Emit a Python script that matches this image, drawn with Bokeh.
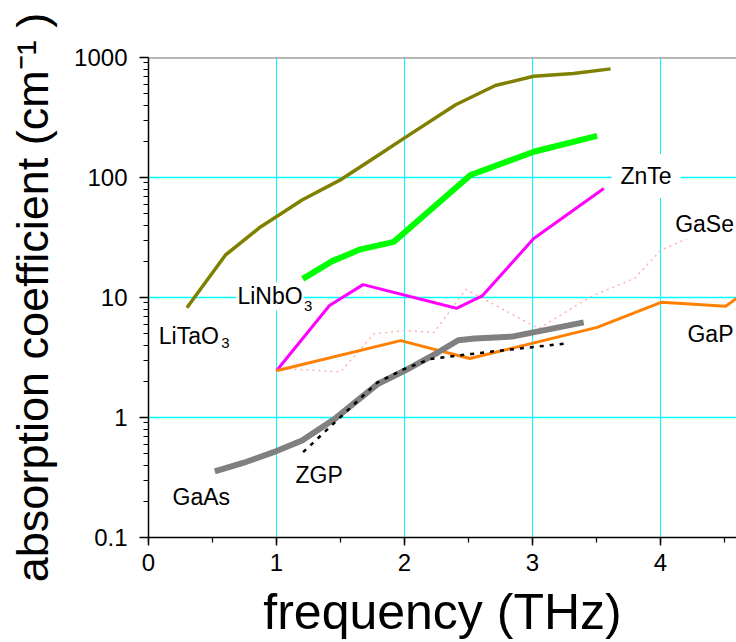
from bokeh.plotting import figure
from bokeh.models import Range1d, Label, Span, SingleIntervalTicker, CustomJSTickFormatter
from bokeh.embed import file_html
from bokeh.resources import INLINE

FONT = "Liberation Sans"

# ---- data (frequency in THz, absorption coefficient in cm^-1) ----
litao3_f = [0.30, 0.60, 0.875, 1.20, 1.51, 1.81, 2.01, 2.40, 2.71, 3.01, 3.32, 3.61]
litao3_a = [8.2, 22.5, 38.7, 65, 97, 157, 217, 404, 584, 698, 735, 804]

linbo3_f = [1.205, 1.435, 1.656, 1.917, 2.516, 3.01, 3.505]
linbo3_a = [14.3, 20.1, 25.2, 29.1, 105, 164, 222]

znte_f = [1.0, 1.414, 1.677, 2.406, 2.607, 3.01, 3.557]
znte_a = [2.45, 8.57, 12.8, 8.13, 10.3, 31, 81]

gap_f = [1.0, 1.97, 2.51, 3.505, 4.01, 4.51, 4.75]
gap_a = [2.45, 4.37, 3.1, 5.64, 9.15, 8.46, 13]

gase_f = [1.0, 1.5, 1.76, 2.0, 2.23, 2.48, 3.05, 3.45, 3.8, 4.0, 4.21]
gase_a = [2.58, 2.4, 4.97, 5.3, 5.1, 11.7, 5.5, 10.1, 14.5, 24.7, 31]

gaas_f = [0.518, 0.745, 1.0, 1.2, 1.45, 1.79, 2.0, 2.26, 2.42, 2.55, 2.84, 3.40]
gaas_a = [0.356, 0.42, 0.525, 0.644, 0.966, 1.9, 2.45, 3.48, 4.4, 4.55, 4.72, 6.2]

zgp_f = [1.208, 1.786, 1.995, 2.20, 2.52, 2.67, 3.27]
zgp_a = [0.514, 1.95, 2.53, 3.07, 3.38, 3.53, 4.15]

# text labels: anchor = left end of the text baseline
label_text = ["LiTaO", "LiNbO", "ZnTe", "GaSe", "GaP", "GaAs", "ZGP"]
label_f = [0.08, 0.695, 3.6875, 4.115, 4.211, 0.1875, 1.148]
label_a = [4.72, 10.06, 86.5, 39.3, 4.81, 0.212, 0.324]
label_pad = [1, 1, 9, 2, 2, 1, 1]

sub_text = ["3", "3"]
sub_f = [0.568, 1.215]
sub_a = [4.12, 8.41]

PX_PER_THZ = 128.0
PX_PER_DECADE = 120.0

p = figure(width=736, height=642,
           x_range=Range1d(0, 4.594), y_range=Range1d(0.1, 1000),
           y_axis_type="log", output_backend="svg", toolbar_location=None,
           min_border_left=148, min_border_right=0, min_border_top=57,
           min_border_bottom=105)
p.outline_line_color = None
p.background_fill_color = "white"
p.border_fill_color = "white"

# grids
p.xgrid.grid_line_color = "#00FFFF"
p.ygrid.grid_line_color = "#00FFFF"
p.xgrid.grid_line_width = 1
p.ygrid.grid_line_width = 1.5
p.ygrid.minor_grid_line_color = None

# axes
xa = p.xaxis[0]
ya = p.yaxis[0]
xa.ticker = SingleIntervalTicker(interval=1, num_minor_ticks=2)
ya.formatter = CustomJSTickFormatter(code="return tick.toString();")
for ax in (xa, ya):
    ax.axis_line_color = "black"
    ax.axis_line_width = 1.5
    ax.major_tick_line_color = "black"
    ax.minor_tick_line_color = "black"
    ax.major_tick_line_width = 1.5
    ax.minor_tick_line_width = 1.2
    ax.major_tick_in = 0
    ax.minor_tick_in = 0
    ax.major_label_text_font = FONT
    ax.major_label_text_font_size = "24px"
    ax.major_label_text_color = "black"
    ax.axis_label_text_font = FONT
    ax.axis_label_text_font_style = "normal"
    ax.axis_label_text_color = "black"
xa.major_tick_out = 8
xa.minor_tick_out = 5
ya.major_tick_out = 9
ya.minor_tick_out = 5
xa.major_label_standoff = 8
ya.major_label_standoff = 12
xa.axis_label = "frequency (THz)"
xa.axis_label_text_font_size = "50px"
xa.axis_label_standoff = 10
ya.axis_label = "absorption coefficient (cm\u207b\u00b9 )"
ya.axis_label_text_font_size = "45px"
ya.axis_label_standoff = 13

# top border
p.add_layout(Span(location=1000, dimension="width", line_color="#707070", line_width=2))

# curves
p.line(gase_f, gase_a, line_color="#FFB0B0", line_width=1.5, line_dash="2 4")
p.line(litao3_f, litao3_a, line_color="#808000", line_width=3.5)
p.line(linbo3_f, linbo3_a, line_color="#00FF00", line_width=6)
p.line(znte_f, znte_a, line_color="#FF00FF", line_width=3)
p.line(gap_f, gap_a, line_color="#FF8000", line_width=3)
p.line(gaas_f, gaas_a, line_color="#808080", line_width=6)
p.line(zgp_f, zgp_a, line_color="black", line_width=2.5, line_dash="4 6")

# labels (anchor compensated for the white box padding)
for t, fx, fy, pad in zip(label_text, label_f, label_a, label_pad):
    p.add_layout(Label(x=fx - pad / PX_PER_THZ, y=fy * 10 ** (pad / PX_PER_DECADE),
                       text=t, text_font=FONT, text_font_size="23px",
                       text_color="black", text_baseline="alphabetic", text_align="left",
                       background_fill_color="white", padding=pad))
for t, fx, fy in zip(sub_text, sub_f, sub_a):
    p.add_layout(Label(x=fx - 1 / PX_PER_THZ, y=fy * 10 ** (1 / PX_PER_DECADE),
                       text=t, text_font=FONT, text_font_size="15px",
                       text_color="black", text_baseline="alphabetic", text_align="left",
                       background_fill_color="white", padding=1))

open("out.html", "w").write(file_html(p, INLINE))
